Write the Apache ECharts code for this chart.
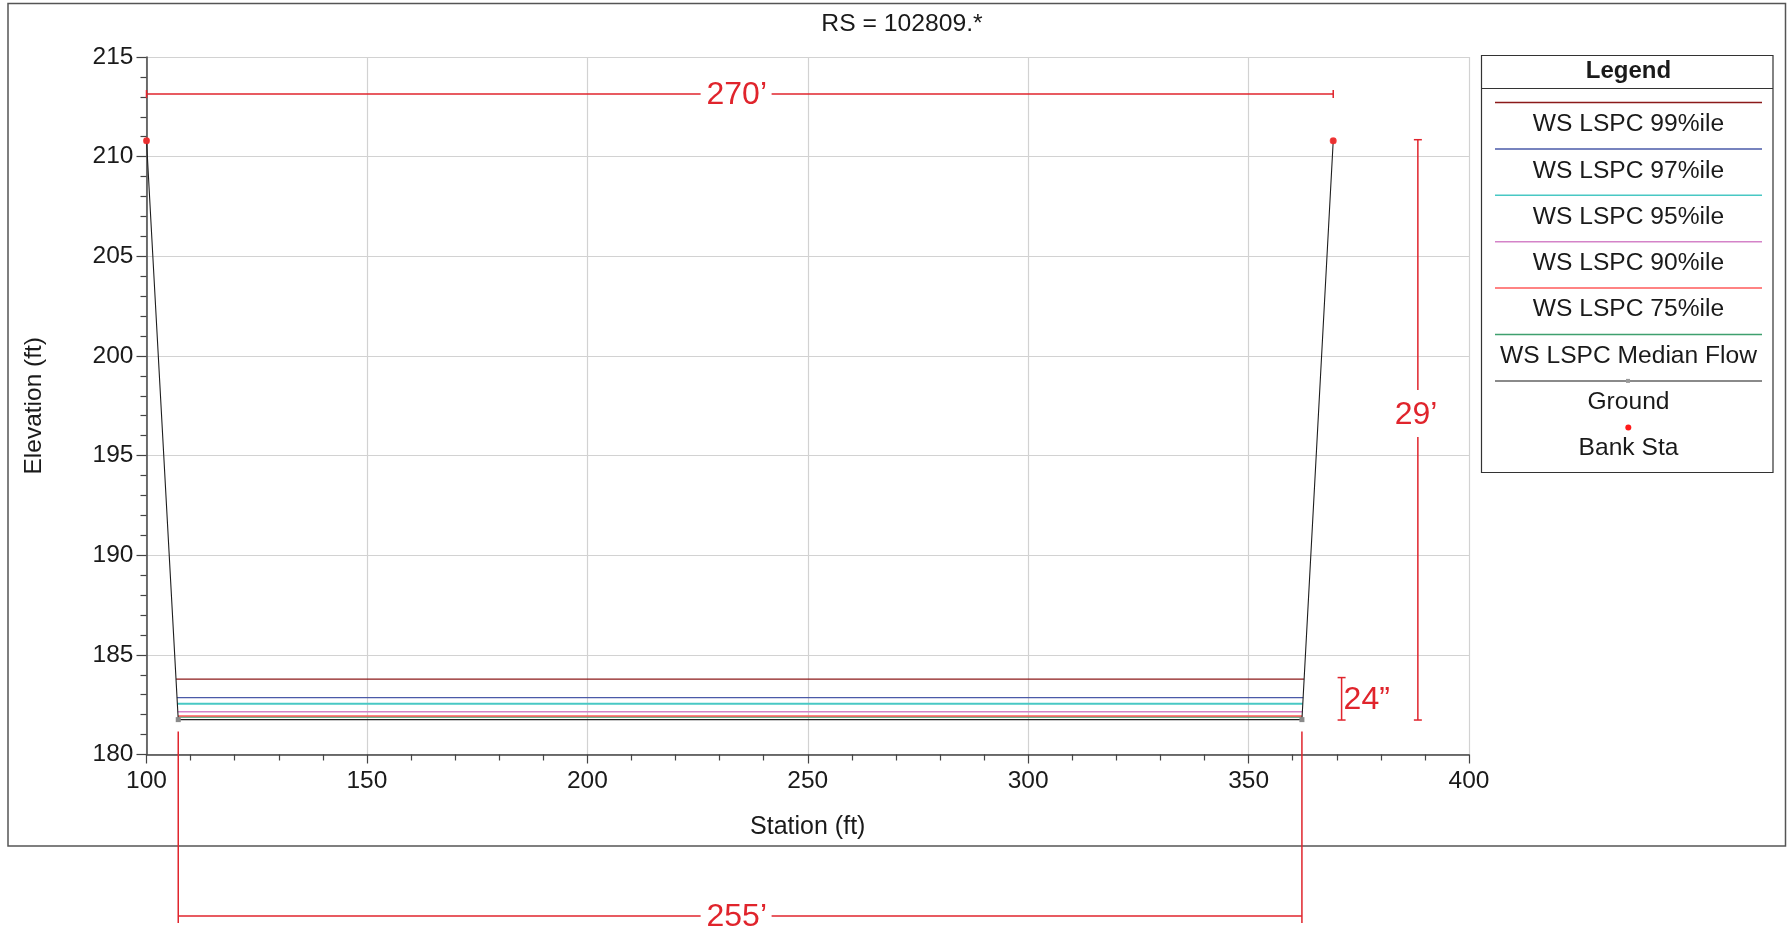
<!DOCTYPE html>
<html>
<head>
<meta charset="utf-8">
<script src="https://cdn.jsdelivr.net/npm/echarts@6/dist/echarts.min.js"></script>
<style>
html,body{margin:0;padding:0;background:#fff;}
#chart{width:1787px;height:931px;}
</style>
</head>
<body>
<div id="chart"></div>
<script>
// ---------------- data ----------------
const titleText = 'RS = 102809.*';
const xTicks = [100, 150, 200, 250, 300, 350, 400];
const yTicks = [180, 185, 190, 195, 200, 205, 210, 215];

// ground profile [station, elevation]
const ground = [[100, 210.8], [107.2, 181.75], [362.1, 181.75], [369.2, 210.8]];
// bank stations
const bankSta = [[100, 210.8], [369.2, 210.8]];

// water surfaces
const wsNames = ['WS LSPC 99%ile', 'WS LSPC 97%ile', 'WS LSPC 95%ile', 'WS LSPC 90%ile', 'WS LSPC 75%ile', 'WS LSPC Median Flow'];
const wsElev  = [183.78, 182.85, 182.55, 182.15, 181.93, 181.88];
const wsLeft  = [106.7, 106.9, 107.0, 107.1, 107.15, 107.15];
const wsRight = [362.6, 362.4, 362.3, 362.2, 362.15, 362.15];
const wsColors = ['#8b1a1a', '#4a5aa8', '#48c8c4', '#d483c8', '#ff5a5a', '#3fa06e'];
const wsWidths = [1.2, 1.2, 2, 1.5, 1.5, 1.5];

// dimension annotations (data coords)
const dimLines = [
  [100, 213.14, 225.7, 213.14], [241.8, 213.14, 369.2, 213.14],   // 270'
  [388.4, 210.85, 388.4, 198.29], [388.4, 195.93, 388.4, 181.73], // 29'
  [371.1, 183.86, 371.1, 181.73],                                  // 24"
  [107.2, 181.15, 107.2, 171.55], [362.1, 181.15, 362.1, 171.55],  // extension lines
  [107.2, 171.9, 225.7, 171.9], [241.8, 171.9, 362.1, 171.9]       // 255'
];
const dimCaps = [[100, 213.14, 'v'], [369.2, 213.14, 'v'], [388.4, 210.85, 'h'], [388.4, 181.73, 'h'], [371.1, 183.86, 'h'], [371.1, 181.73, 'h']];
const dimLabels = [['270\u2019', 233.9, 213.14], ['29\u2019', 388.0, 197.1], ['24\u201D', 376.8, 182.82], ['255\u2019', 233.9, 171.9]];

const legendNames = wsNames.concat(['Ground', 'Bank Sta']);

// ---------------- chart ----------------
const RED = '#e0242c';
const FONT = '"Liberation Sans", Arial, Helvetica, sans-serif';
const chart = echarts.init(document.getElementById('chart'));

const series = [];
wsNames.forEach((n, i) => {
  series.push({
    name: n, type: 'line', symbol: 'none', silent: true, z: 3 + (6 - i) * 0.01,
    lineStyle: { color: wsColors[i], width: wsWidths[i] },
    data: [[wsLeft[i], wsElev[i]], [wsRight[i], wsElev[i]]]
  });
});
series.push({
  name: 'Ground', type: 'line', z: 5, silent: true,
  symbol: 'rect', symbolSize: 5, itemStyle: { color: '#8a8a8a' },
  lineStyle: { color: '#1e1e1e', width: 1.1 },
  data: ground
});
series.push({
  name: 'Bank Sta', type: 'scatter', z: 6, silent: true,
  symbol: 'circle', symbolSize: 7, itemStyle: { color: '#ff1a1a' },
  data: bankSta
});
series.push({
  type: 'custom', clip: false, silent: true, z: 7,
  data: dimLines,
  renderItem: function (params, api) {
    const p1 = api.coord([api.value(0), api.value(1)]);
    const p2 = api.coord([api.value(2), api.value(3)]);
    return { type: 'line', shape: { x1: p1[0], y1: p1[1], x2: p2[0], y2: p2[1] }, style: { stroke: RED, lineWidth: 1.5 } };
  }
});
series.push({
  type: 'custom', clip: false, silent: true, z: 7,
  data: dimCaps.map(d => [d[0], d[1]]),
  renderItem: function (params, api) {
    const p = api.coord([api.value(0), api.value(1)]);
    const t = dimCaps[params.dataIndex][2];
    const h = 4;
    const shape = t === 'v' ? { x1: p[0], y1: p[1] - h, x2: p[0], y2: p[1] + h } : { x1: p[0] - h, y1: p[1], x2: p[0] + h, y2: p[1] };
    return { type: 'line', shape: shape, style: { stroke: RED, lineWidth: 1.5 } };
  }
});
series.push({
  type: 'custom', clip: false, silent: true, z: 8,
  data: dimLabels.map(d => [d[1], d[2]]),
  renderItem: function (params, api) {
    const p = api.coord([api.value(0), api.value(1)]);
    return { type: 'text', x: p[0], y: p[1] + 1.5, style: { text: dimLabels[params.dataIndex][0], fill: RED, font: '32px ' + FONT, textAlign: 'center', textVerticalAlign: 'middle' } };
  }
});

// legend built from graphic elements
const lg = [];
lg.push({ type: 'rect', shape: { x: 1481.5, y: 55.5, width: 291.5, height: 417 }, style: { fill: '#fff', stroke: '#333', lineWidth: 1.2 } });
lg.push({ type: 'line', shape: { x1: 1481.5, y1: 88.5, x2: 1773, y2: 88.5 }, style: { stroke: '#333', lineWidth: 1.2 } });
lg.push({ type: 'text', x: 1628.5, y: 71, style: { text: 'Legend', font: 'bold 24px ' + FONT, fill: '#1a1a1a', textAlign: 'center', textVerticalAlign: 'middle' } });
const lineColors = wsColors.concat(['#8a8a8a']);
legendNames.forEach((n, i) => {
  const ly = 102.5 + i * 46.4;
  if (i < 7) {
    lg.push({ type: 'line', shape: { x1: 1495, y1: ly, x2: 1762, y2: ly }, style: { stroke: lineColors[i], lineWidth: i === 6 ? 2 : 1.5 } });
    if (i === 6) lg.push({ type: 'rect', shape: { x: 1626, y: ly - 2, width: 4, height: 4 }, style: { fill: '#9a9a9a' } });
  } else {
    lg.push({ type: 'circle', shape: { cx: 1628.3, cy: 427.5, r: 3 }, style: { fill: '#ff1a1a' } });
  }
  lg.push({ type: 'text', x: 1628.5, y: 124.5 + i * 46.3, style: { text: n, font: '24.6px ' + FONT, fill: '#1a1a1a', textAlign: 'center', textVerticalAlign: 'middle' } });
});

const option = {
  backgroundColor: '#fff',
  animation: false,
  textStyle: { fontFamily: FONT },
  title: {
    text: titleText, left: 897, top: 7, textAlign: 'center',
    textStyle: { fontFamily: FONT, fontSize: 24.7, fontWeight: 'normal', color: '#1a1a1a' }
  },
  grid: { left: 146.5, right: 318, top: 57, bottom: 176.5, containLabel: false },
  xAxis: {
    type: 'value', min: xTicks[0], max: xTicks[xTicks.length - 1], interval: 50,
    name: 'Station (ft)', nameLocation: 'middle', nameGap: 60,
    nameTextStyle: { fontFamily: FONT, fontSize: 25, color: '#1a1a1a' },
    axisLine: { show: true, onZero: false, lineStyle: { color: '#444', width: 1.5 } },
    axisTick: { show: true, length: 9, lineStyle: { color: '#444', width: 1.2 } },
    minorTick: { show: true, splitNumber: 5, length: 6, lineStyle: { color: '#444', width: 1.2 } },
    axisLabel: { fontFamily: FONT, fontSize: 24.5, color: '#1a1a1a', margin: 14, showMinLabel: true, showMaxLabel: true },
    splitLine: { show: true, lineStyle: { color: '#d2d2d2', width: 1.2 } }
  },
  yAxis: {
    type: 'value', min: yTicks[0], max: yTicks[yTicks.length - 1], interval: 5,
    name: 'Elevation (ft)', nameLocation: 'middle', nameGap: 100,
    nameTextStyle: { fontFamily: FONT, fontSize: 24.5, color: '#1a1a1a' },
    axisLine: { show: true, onZero: false, lineStyle: { color: '#444', width: 1.5 } },
    axisTick: { show: true, length: 10, lineStyle: { color: '#444', width: 1.2 } },
    minorTick: { show: true, splitNumber: 5, length: 6, lineStyle: { color: '#444', width: 1.2 } },
    axisLabel: { fontFamily: FONT, fontSize: 24.5, color: '#1a1a1a', margin: 13, showMinLabel: true, showMaxLabel: true },
    splitLine: { show: true, lineStyle: { color: '#d2d2d2', width: 1.2 } }
  },
  graphic: [
    { type: 'rect', z: -10, silent: true, shape: { x: 8, y: 3.5, width: 1777.5, height: 842.5 }, style: { fill: 'none', stroke: '#555', lineWidth: 1.5 } },
    { type: 'group', silent: true, children: lg }
  ],
  series: series
};
chart.setOption(option);
</script>
</body>
</html>
